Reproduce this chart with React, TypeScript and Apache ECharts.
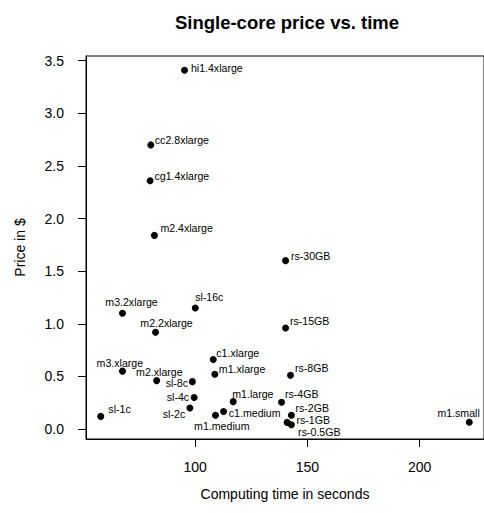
import React, { useEffect, useRef } from "react";
import * as echarts from "echarts";

const instanceNames = [
  "hi1.4xlarge", "cc2.8xlarge", "cg1.4xlarge", "m2.4xlarge", "m3.2xlarge", "sl-16c",
  "m2.2xlarge", "rs-30GB", "rs-15GB", "c1.xlarge", "m1.xlarge", "rs-8GB",
  "m3.xlarge", "m2.xlarge", "sl-8c", "sl-4c", "m1.large", "rs-4GB",
  "sl-2c", "c1.medium", "m1.medium", "sl-1c", "rs-2GB", "rs-1GB", "rs-0.5GB", "m1.small",
];
const computeSeconds = [
  95.3, 80.3, 80.0, 81.9, 67.7, 100.1,
  82.4, 140.3, 140.3, 108.1, 108.8, 142.5,
  67.7, 82.9, 98.8, 99.6, 117.0, 138.5,
  97.7, 112.7, 109.1, 58.0, 142.9, 141.0, 142.9, 222.1,
];
const pricePerHour = [
  3.41, 2.7, 2.36, 1.84, 1.1, 1.15,
  0.92, 1.6, 0.96, 0.66, 0.52, 0.51,
  0.55, 0.46, 0.45, 0.3, 0.26, 0.255,
  0.2, 0.167, 0.13, 0.12, 0.13, 0.063, 0.04, 0.065,
];
const xTicks = [100, 150, 200];
const yTicks = [0, 0.5, 1, 1.5, 2, 2.5, 3, 3.5];

// label placement (style): [align, dx, dy] relative to the point
const labelPlacement: [string, number, number][] = [
  ["left", 6.4, -2.3], ["left", 4, -5], ["left", 4.3, -5], ["left", 6, -7], ["center", 9, -11], ["center", 14, -10.7],
  ["center", 11, -9.5], ["left", 5.4, -4.3], ["left", 4.4, -7.3], ["left", 3, -7], ["left", 4, -5.7], ["left", 4.4, -7.2],
  ["center", -2.7, -8.3], ["center", 2.7, -8.5], ["right", -4.3, 1.8], ["right", -5, -0.7], ["left", -1, -8], ["left", 3.4, -8.3],
  ["right", -4.7, 5.7], ["left", 5.2, 1.5], ["center", 6.3, 10.5], ["left", 7.6, -7], ["left", 4, -7], ["left", 9.3, -2], ["left", 6.7, 7.5], ["center", -10.7, -9.3],
];

const FONT = "'Liberation Sans', Arial, Helvetica, sans-serif";

export default function App() {
  const ref = useRef<HTMLDivElement>(null);
  useEffect(() => {
    if (!ref.current) return;
    const chart = echarts.init(ref.current, undefined, { renderer: "svg" });
    const data = instanceNames.map((n, i) => ({
      name: n,
      value: [computeSeconds[i], pricePerHour[i]],
      label: {
        align: labelPlacement[i][0],
        offset: [labelPlacement[i][1], labelPlacement[i][2]],
      },
    }));
    chart.setOption({
      animation: false,
      backgroundColor: "#ffffff",
      textStyle: { fontFamily: FONT },
      title: {
        text: "Single-core price vs. time",
        left: 282,
        top: 8,
        textAlign: "center",
        textStyle: { fontSize: 18.5, fontWeight: "bold", color: "#000", fontFamily: FONT },
      },
      grid: {
        left: 86,
        top: 56,
        width: 401.7,
        height: 383,
        show: true,
        borderColor: "#000",
        borderWidth: 1,
        backgroundColor: "transparent",
      },
      xAxis: {
        type: "value",
        min: 51.44,
        max: 228.66,
        name: "Computing time in seconds",
        nameLocation: "middle",
        nameGap: 48,
        nameTextStyle: { fontSize: 14, color: "#000", fontFamily: FONT },
        axisLine: { show: true, onZero: false, lineStyle: { color: "#000", width: 1 } },
        axisTick: { show: true, length: 8, customValues: xTicks, lineStyle: { color: "#000" } },
        axisLabel: { customValues: xTicks, margin: 21, fontSize: 14, color: "#000", fontFamily: FONT },
        splitLine: { show: false },
      },
      yAxis: {
        type: "value",
        min: -0.095,
        max: 3.545,
        name: "Price in $",
        nameLocation: "middle",
        nameGap: 59,
        nameTextStyle: { fontSize: 14, color: "#000", fontFamily: FONT },
        axisLine: { show: true, onZero: false, lineStyle: { color: "#000", width: 1 } },
        axisTick: { show: true, length: 8, customValues: yTicks, lineStyle: { color: "#000" } },
        axisLabel: {
          customValues: yTicks,
          margin: 22,
          fontSize: 14,
          color: "#000",
          fontFamily: FONT,
          formatter: (v: number) => v.toFixed(1),
        },
        splitLine: { show: false },
      },
      series: [
        {
          type: "scatter",
          symbol: "circle",
          symbolSize: 7,
          itemStyle: { color: "#000", opacity: 1 },
          clip: false,
          label: {
            show: true,
            position: "inside",
            formatter: "{b}",
            color: "#000",
            opacity: 1,
            fontSize: 10.6,
            fontFamily: FONT,
            verticalAlign: "middle",
          },
          data,
        },
      ],
    });
    return () => chart.dispose();
  }, []);
  return (
    <div
      ref={ref}
      style={{ position: "absolute", left: 0, top: 0, width: 484, height: 513 }}
    />
  );
}
